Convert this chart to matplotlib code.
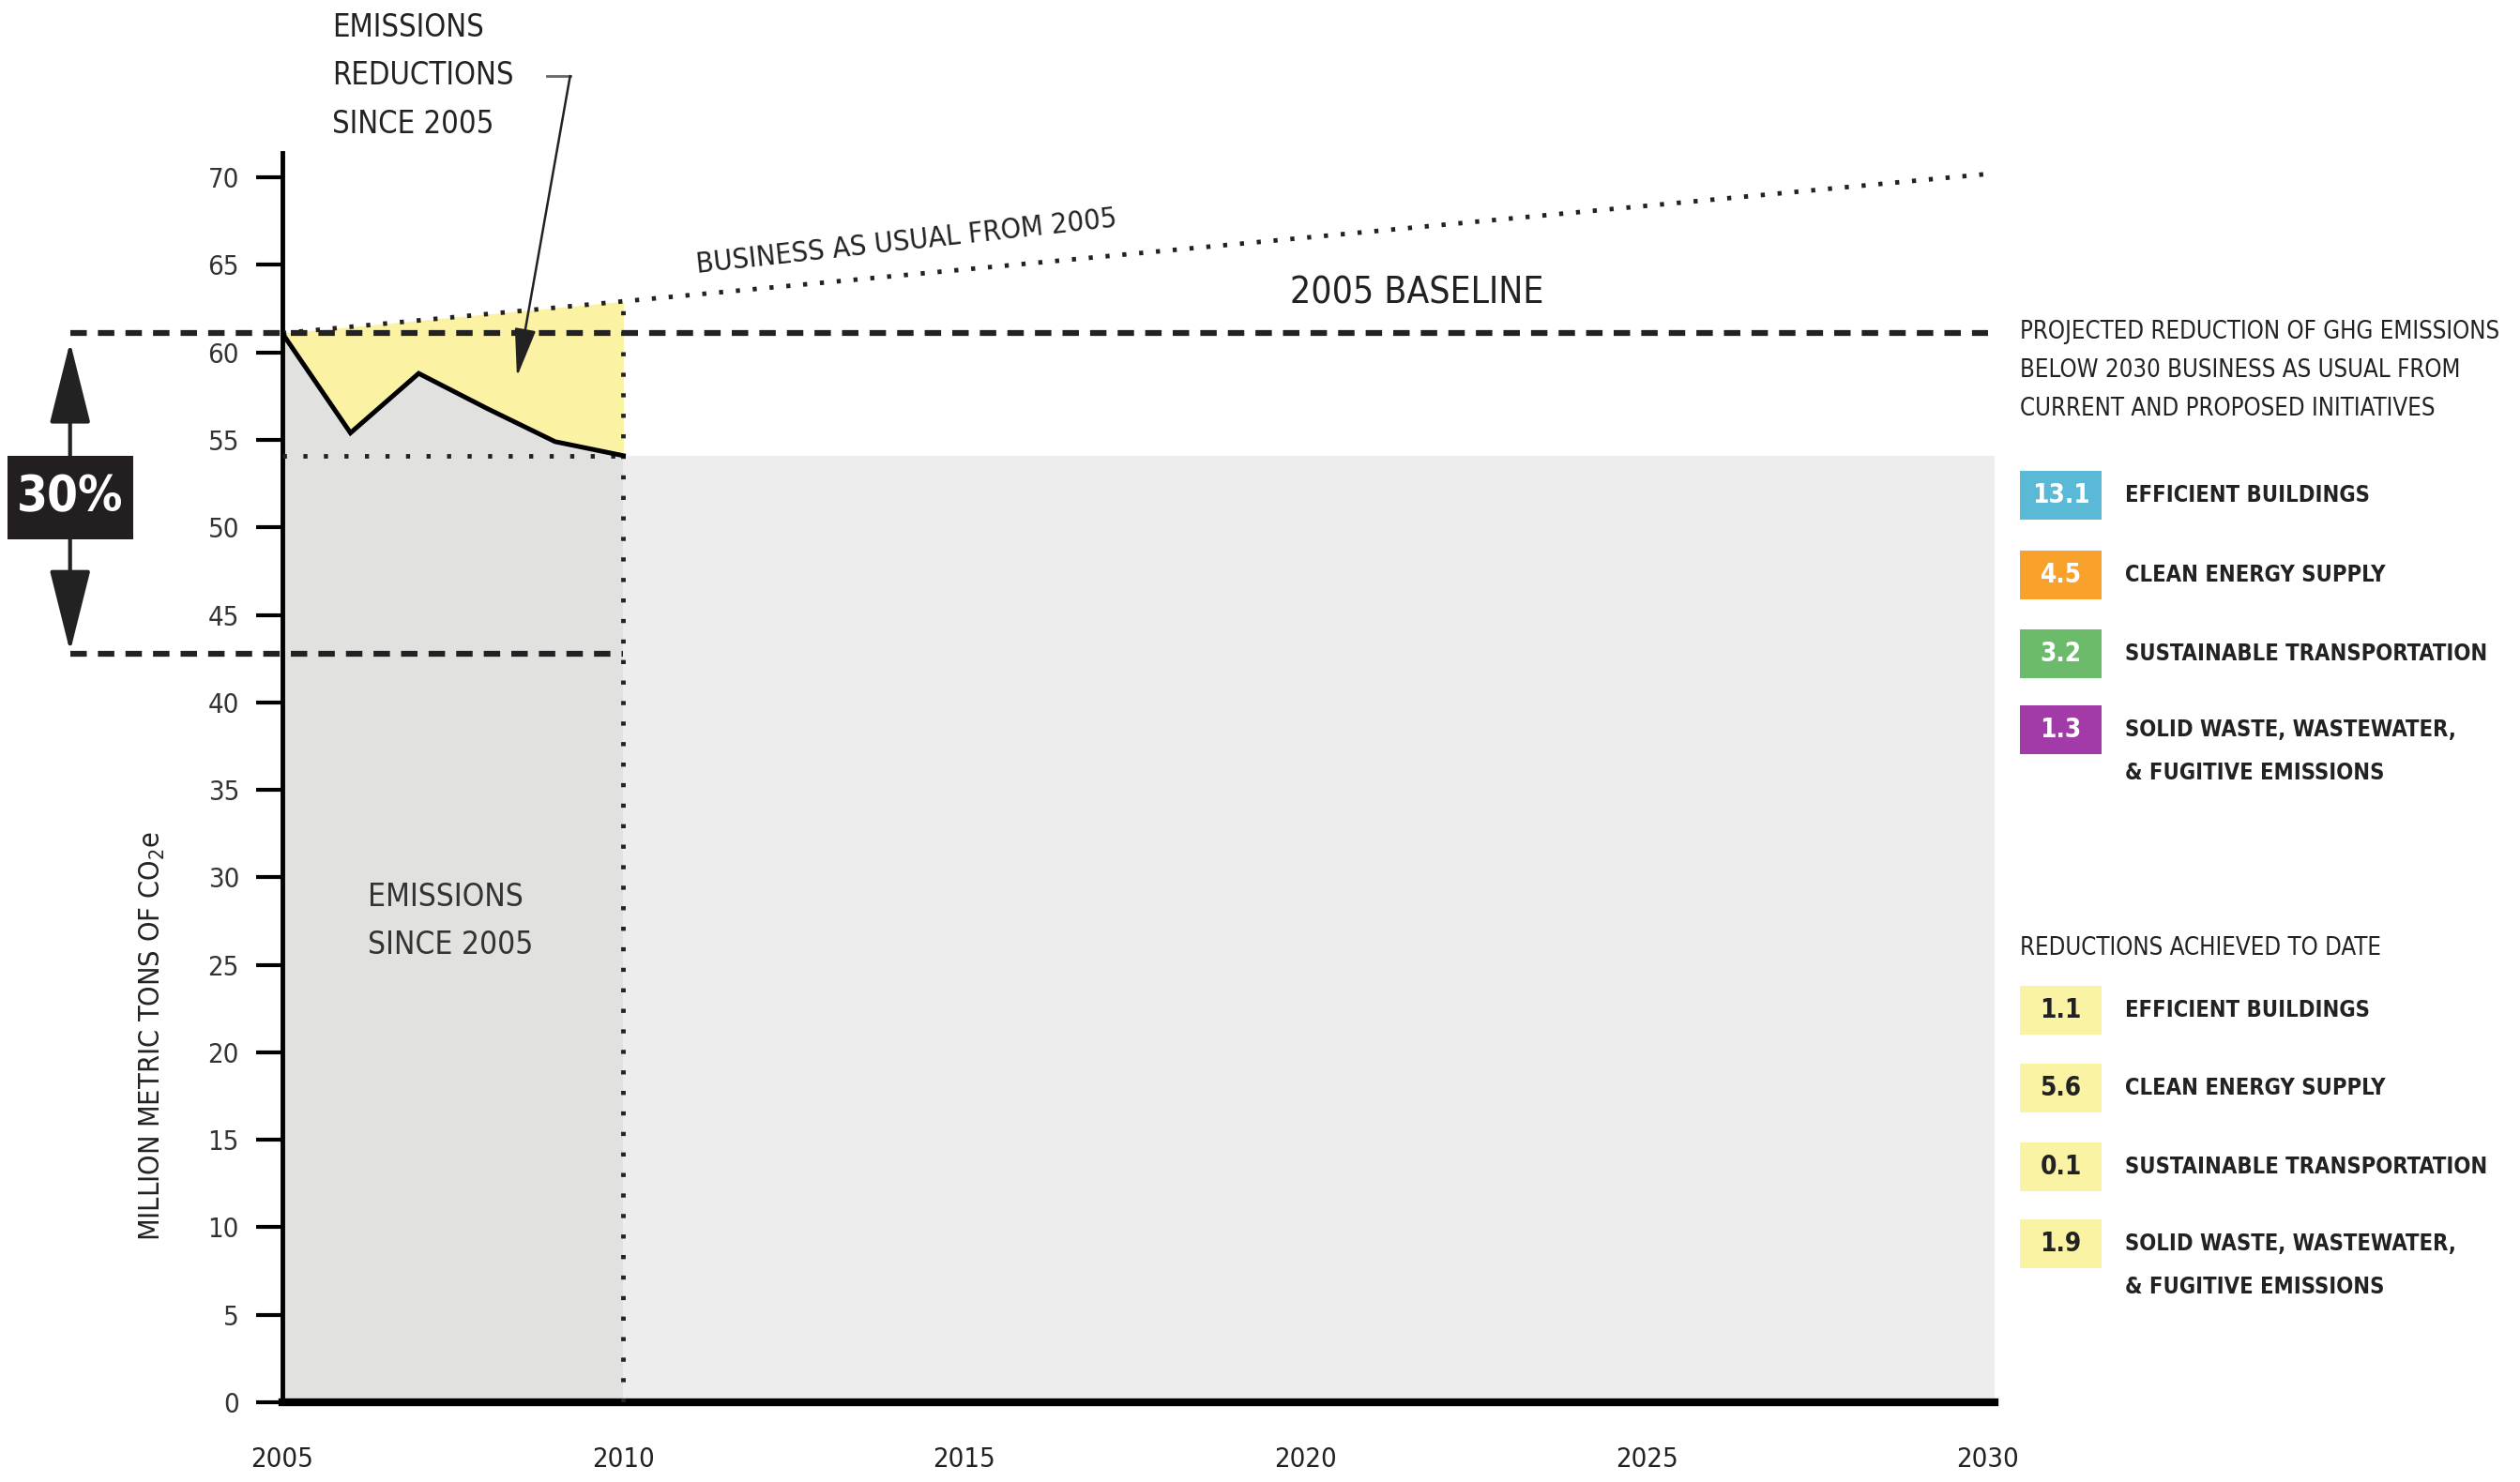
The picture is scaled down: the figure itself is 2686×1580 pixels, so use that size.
import numpy as np
import matplotlib.pyplot as plt
from matplotlib.patches import Rectangle

plt.rcParams['font.family'] = ['DejaVu Sans']
plt.rcParams['font.stretch'] = 'condensed'

# data
years = np.array([2005, 2006, 2007, 2008, 2009, 2010])
emissions = np.array([61.1, 55.4, 58.8, 56.8, 54.9, 54.1])
baseline = 61.1
target = 42.8
bau_years = np.array([2005, 2030])
bau = np.array([61.1, 70.2])
xticks = [2005, 2010, 2015, 2020, 2025, 2030]
yticks = list(range(0, 75, 5))

proj_vals = ['13.1', '4.5', '3.2', '1.3']
proj_labels = ['EFFICIENT BUILDINGS', 'CLEAN ENERGY SUPPLY', 'SUSTAINABLE TRANSPORTATION',
               'SOLID WASTE, WASTEWATER,\n& FUGITIVE EMISSIONS']
proj_colors = ['#59b9d6', '#f8a12b', '#6cbb6b', '#a23aa8']
done_vals = ['1.1', '5.6', '0.1', '1.9']
done_labels = proj_labels

dark = '#222222'
fig = plt.figure(figsize=(26.86, 15.8), dpi=100)
ax = fig.add_axes([0.112, 0.0538, 0.6795, 0.843])
ax.set_xlim(2005, 2030.1)
ax.set_ylim(0, 71.4)

bau_2010 = np.interp(2010, bau_years, bau)
bau_at = np.interp(years, bau_years, bau)

# fills
ax.fill_between(years, 0, emissions, color='#e1e1df', lw=0, zorder=1)
ax.fill_between(years, emissions, bau_at, color='#fbf2a3', lw=0, zorder=1)
ax.fill_between([2010, 2030.1], 0, emissions[-1], color='#ededed', lw=0, zorder=1)

# lines
ax.plot(years, emissions, color='black', lw=3.6, zorder=4, solid_joinstyle='miter')
ax.plot(bau_years, bau, color=dark, lw=3.5, ls=(0, (0.9, 2.8)), zorder=3)
ax.plot([2001.9, 2030], [baseline, baseline], color=dark, lw=4.5, ls=(0, (2.8, 1.9)),
        clip_on=False, zorder=3)
ax.plot([2001.9, 2010], [target, target], color=dark, lw=4.5, ls=(0, (2.8, 1.9)),
        clip_on=False, zorder=3)
ax.plot([2005, 2010], [emissions[-1], emissions[-1]], color=dark, lw=3.5,
        ls=(0, (0.9, 3.6)), zorder=3)
ax.plot([2010, 2010], [0, bau_2010], color=dark, lw=3.5, ls=(0, (0.9, 3.6)), zorder=3)

# axes styling
for s in ['top', 'right']:
    ax.spines[s].set_visible(False)
ax.spines['left'].set_linewidth(3.5)
ax.spines['bottom'].set_linewidth(6)
ax.spines['left'].set_bounds(0, 71.4)
ax.set_xticks(xticks)
ax.set_yticks(yticks)
ax.tick_params(axis='x', length=0, pad=34, labelsize=21, labelcolor=dark)
ax.tick_params(axis='y', length=20, width=3, pad=13, labelsize=21, labelcolor='#333333')
ax.set_facecolor('none')

# annotations
ax.text(-0.0756, 0.293, 'MILLION METRIC TONS OF CO$_2$e', transform=ax.transAxes,
        rotation=90, ha='center', va='center', fontsize=22, color=dark)
ax.text(2006.25, 27.5, 'EMISSIONS\nSINCE 2005', ha='left', va='center', fontsize=24,
        color='#333333', linespacing=1.67, zorder=5)
ax.text(2005.73, 75.8, 'EMISSIONS\nREDUCTIONS\nSINCE 2005', ha='left', va='center',
        fontsize=23.5, color=dark, linespacing=1.71, clip_on=False)
ax.plot([2008.88, 2009.22], [75.8, 75.8], color='#666666', lw=2, clip_on=False)
ax.annotate('', xy=(2008.44, 58.6), xytext=(2009.22, 75.8), annotation_clip=False,
            arrowprops=dict(arrowstyle='-|>,head_length=1.6,head_width=0.35',
                            mutation_scale=20, color=dark, lw=1.8, shrinkA=0, shrinkB=0))
ax.text(2014.15, 66.3, 'BUSINESS AS USUAL FROM 2005', rotation=6.3, ha='center',
        va='center', fontsize=22, color=dark)
ax.text(2021.63, 63.4, '2005 BASELINE', ha='center', va='center', fontsize=28,
        color=dark)

# 30% double arrow and box
ax.annotate('', xy=(2001.89, 60.6), xytext=(2001.89, 42.9), annotation_clip=False,
            arrowprops=dict(arrowstyle='<|-|>,head_length=2.2,head_width=0.55',
                            mutation_scale=25, color=dark, lw=3, shrinkA=0, shrinkB=0))
ax.add_patch(Rectangle((2001.89 - 0.92, 51.7 - 2.38), 1.84, 4.77, facecolor='#231f20',
                       edgecolor='none', clip_on=False, zorder=6))
ax.text(2001.89, 51.7, '30%', ha='center', va='center', fontsize=38, fontweight='bold',
        color='white', clip_on=False, zorder=7)

# right-hand key
def fy(py):
    return 1 - py / 1580.0

bx, bw, bh = 0.8016, 0.0324, 0.0335
tx = 2265 / 2686.0
fig.text(bx, fy(395), 'PROJECTED REDUCTION OF GHG EMISSIONS\nBELOW 2030 BUSINESS AS USUAL FROM\n'
         'CURRENT AND PROPOSED INITIATIVES', ha='left', va='center', fontsize=18.5,
         color=dark, linespacing=1.73)
for i, yc in enumerate([528, 613, 697, 778]):
    fig.add_artist(Rectangle((bx, fy(yc) - bh / 2), bw, bh, transform=fig.transFigure,
                             facecolor=proj_colors[i], edgecolor='none'))
    fig.text(bx + bw / 2, fy(yc), proj_vals[i], ha='center', va='center', fontsize=20,
             fontweight='bold', color='white')
    fig.text(tx, fy(yc), proj_labels[i].split('\n')[0], ha='left', va='center',
             fontsize=17, fontweight='bold', color=dark)
    if '\n' in proj_labels[i]:
        fig.text(tx, fy(yc + 46), proj_labels[i].split('\n')[1], ha='left', va='center',
                 fontsize=17, fontweight='bold', color=dark)

fig.text(bx, fy(1011), 'REDUCTIONS ACHIEVED TO DATE', ha='left', va='center',
         fontsize=18.5, color=dark)
for i, yc in enumerate([1077, 1160, 1244, 1326]):
    fig.add_artist(Rectangle((bx, fy(yc) - bh / 2), bw, bh, transform=fig.transFigure,
                             facecolor='#faf3a3', edgecolor='none'))
    fig.text(bx + bw / 2, fy(yc), done_vals[i], ha='center', va='center', fontsize=20,
             fontweight='bold', color=dark)
    fig.text(tx, fy(yc), done_labels[i].split('\n')[0], ha='left', va='center',
             fontsize=17, fontweight='bold', color=dark)
    if '\n' in done_labels[i]:
        fig.text(tx, fy(yc + 46), done_labels[i].split('\n')[1], ha='left', va='center',
                 fontsize=17, fontweight='bold', color=dark)

fig.savefig('out.png', dpi=100, facecolor='white')
